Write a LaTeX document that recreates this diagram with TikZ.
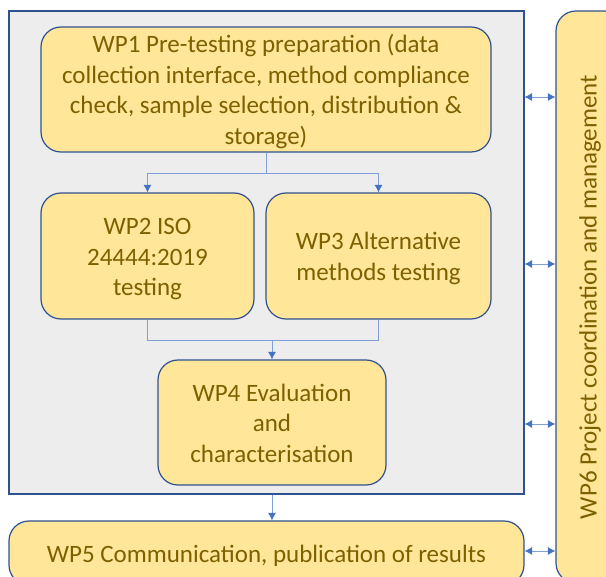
\documentclass[tikz,border=0pt]{standalone}
\usepackage{fontspec}
\setmainfont{Carlito}
\usetikzlibrary{arrows.meta}
\definecolor{boxfill}{HTML}{FFE699}
\definecolor{boxline}{HTML}{2F528F}
\definecolor{boxtext}{HTML}{7F6000}
\definecolor{panel}{HTML}{EDEDED}
\definecolor{linkline}{HTML}{7F9FD8}
\definecolor{linktip}{HTML}{4472C4}
% centred lines, set slightly below the box centre
\newcommand\wptext[1]{\raisebox{-3pt}[\height][\depth]{\begin{tabular}{@{}c@{}}#1\end{tabular}}}
\tikzset{
  wpbox/.style={draw=boxline, line width=1.2pt, fill=boxfill, rounded corners=20pt,
    text=boxtext, inner sep=0pt,
    font=\fontsize{25}{30.5}\selectfont},
  link/.style={draw=linkline, line width=0.9pt},
  flow/.style={link, -{Latex[length=7.5pt,width=8pt,color=linktip]}},
  both/.style={link, {Latex[length=7.5pt,width=8pt,color=linktip]}-{Latex[length=7.5pt,width=8pt,color=linktip]}}
}
\begin{document}
\begin{tikzpicture}[x=1pt,y=-1pt]
\useasboundingbox (0,0) rectangle (606,577);
\begin{scope}
\clip (0,0) rectangle (606,577);
% grey panel holding WP1-WP4
\node[draw=boxline, line width=1.1pt, fill=panel, minimum width=515pt, minimum height=483pt, inner sep=0pt]
  (panel) at (266.5,252.5) {};
% work packages
\node[wpbox, minimum width=450pt, minimum height=125pt] (wp1) at (266,89.5)
  {\wptext{WP1 Pre-testing preparation (data\\collection interface, method compliance\\check, sample selection, distribution \&\\storage)}};
\node[wpbox, minimum width=213pt, minimum height=126pt] (wp2) at (147.5,256)
  {\wptext{WP2 ISO\\24444:2019\\testing}};
\node[wpbox, minimum width=225pt, minimum height=126pt] (wp3) at (378.5,256)
  {\wptext{WP3 Alternative\\methods testing}};
\node[wpbox, minimum width=228pt, minimum height=125pt] (wp4) at (272,422.5)
  {\wptext{WP4 Evaluation\\and\\characterisation}};
\node[wpbox, minimum width=515pt, minimum height=64pt] (wp5) at (266.5,553)
  {\wptext{WP5 Communication, publication of results}};
\node[wpbox, minimum width=68pt, minimum height=572pt] (wp6) at (590,297)
  {\rotatebox{90}{WP6 Project coordination and management}};
% flow between work packages
\draw[link] (wp1.south) -- ++(0,21) coordinate (fork);
\draw[flow] (fork) -| (wp2.north);
\draw[flow] (fork) -| (wp3.north);
\coordinate (join) at (272,340);
\draw[link] (wp2.south) |- (join);
\draw[link] (wp3.south) |- (join);
\draw[flow] (join) -- (wp4.north);
\draw[flow] (panel.south -| wp4.center) -- (wp5.north -| wp4.center);
% coordination links to WP6
\coordinate (c1) at (540,97);
\coordinate (c2) at (540,264);
\coordinate (c3) at (540,424);
\coordinate (c4) at (540,551);
\draw[both] (panel.east |- c1) -- (wp6.west |- c1);
\draw[both] (panel.east |- c2) -- (wp6.west |- c2);
\draw[both] (panel.east |- c3) -- (wp6.west |- c3);
\draw[both] (wp5.east |- c4) -- (wp6.west |- c4);
\end{scope}
\end{tikzpicture}
\end{document}
